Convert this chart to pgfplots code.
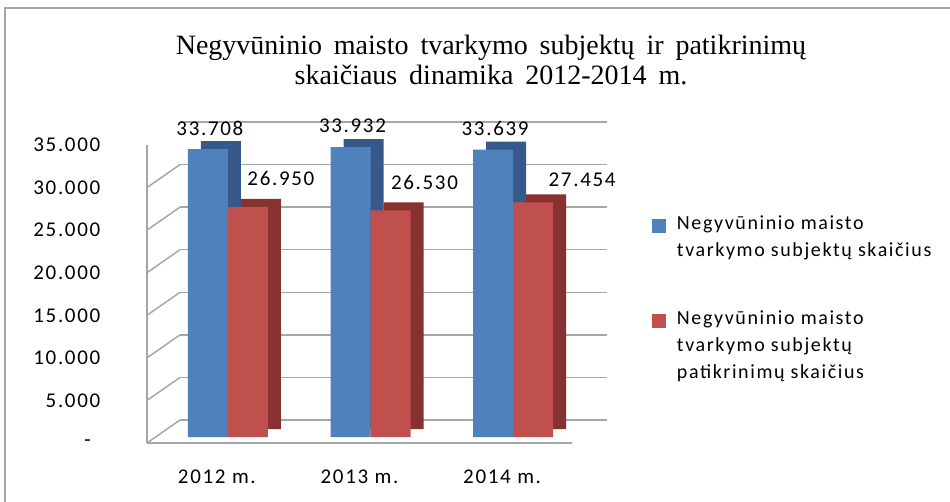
\documentclass[border=0pt]{standalone}
\usepackage{pgfplots}
\usepackage{pgfplotstable}
\pgfplotsset{compat=1.18}
\usepackage{fontspec}
\setmainfont{Carlito}[LetterSpace=8]
\newfontfamily\titlefont{Liberation Serif}[WordSpace=1.7]
\definecolor{bblue}{HTML}{4F81BD}
\definecolor{rred}{HTML}{C0504D}
\definecolor{dblue}{HTML}{36598A}
\definecolor{dred}{HTML}{873230}
\definecolor{gridc}{HTML}{A6A6A6}

\pgfplotstableread{
x y
0 33708
1 33932
2 33639
}\bluetab
\pgfplotstableread{
x y lx ly
0 26950 24.75 21.5
1 26530 25.5 21.2
2 27454 36.75 16.8
}\redtab

\pgfplotsset{
  every axis/.append style={scaled y ticks=false},
  barax/.style={scale only axis, width=318.75pt, height=224.25pt, anchor=south west,
    xmin=-0.49, xmax=2.49, ymin=0, ymax=35000, ybar=0pt, bar width=30pt, hide axis},
  /pgf/number format/.cd, 1000 sep={.}, assume math mode=true
}

\begin{document}
\begin{tikzpicture}
\useasboundingbox (0,0) rectangle (712.5pt,375.75pt);
\draw[gridc, line width=1.1pt] (3.75pt,-2pt) -- (3.75pt,369.75pt) -- (714pt,369.75pt);
\node[font=\titlefont\fontsize{21pt}{22.5pt}\selectfont, align=center] at (368.25pt,330.75pt)
  {Negyvūninio maisto tvarkymo subjektų ir patikrinimų\\skaičiaus dinamika 2012-2014 m.};

% back wall with grid
\begin{axis}[scale only axis, width=320.25pt, height=223.5pt, at={(135pt,60.75pt)}, anchor=south west,
  xmin=0, xmax=1, ymin=0, ymax=35000, xtick=\empty, ytick={0,5000,10000,15000,20000,25000,30000,35000}, yticklabels={},
  ymajorgrids, grid style={gridc, line width=1.1pt}, axis line style={draw=none}, major tick length=0pt]
\end{axis}

% front plane: ticks, labels, side wall
\begin{axis}[scale only axis, width=318.75pt, height=223.5pt, at={(110.25pt,43.5pt)}, anchor=south west,
  xmin=-0.49, xmax=2.49, ymin=0, ymax=35000,
  axis x line*=bottom, axis y line*=left, axis line style={-, gridc, line width=1.1pt},
  major tick length=0pt,
  xtick={0,1,2}, xticklabels={2012 m., 2013 m., 2014 m.},
  ytick={0,5000,10000,15000,20000,25000,30000,35000},
  yticklabels={\makebox[12pt][l]{-},5.000,10.000,15.000,20.000,25.000,30.000,35.000},
  tick label style={font=\fontsize{15.75pt}{18pt}\selectfont},
  yticklabel style={xshift=-31.5pt},
  xticklabel style={yshift=-16.5pt}]
\pgfplotsinvokeforeach{0,5000,10000,15000,20000,25000,30000,35000}{
  \draw[gridc, line width=1.1pt] (axis cs:-0.49,#1) -- ++(24.75pt,17.25pt);
}
\draw[gridc, line width=1.1pt] (axis cs:2.49,0) -- ++(26.25pt,17.25pt);
\end{axis}

% depth (dark) bars
\begin{axis}[barax, at={(128.25pt,54pt)}]
\addplot[fill=dblue, draw=none] table[x=x,y=y] {\bluetab};
\addplot[fill=dred, draw=none] table[x=x,y=y] {\redtab};
\end{axis}

% front bars
\begin{axis}[barax, at={(118.5pt,48pt)},
  legend image code/.code={\fill[#1] (0pt,-4.5pt) rectangle (10.5pt,-15pt);},
  legend style={at={(1.1624,0.751)}, anchor=north west, draw=none, fill=none, inner sep=0pt,
    font=\fontsize{15pt}{20.25pt}\selectfont,
    cells={anchor=north west, align=left, inner sep=0pt}, row sep=35pt, column sep=6pt}]
\addplot[fill=bblue, draw=none, nodes near coords,
  every node near coord/.append style={anchor=center, xshift=1.5pt, yshift=15.75pt,
    font=\fontsize{15.75pt}{18pt}\selectfont}]
  table[x=x,y=y] {\bluetab};
\addplot[fill=rred, draw=none, nodes near coords,
  visualization depends on={\thisrow{lx} \as \lx},
  visualization depends on={\thisrow{ly} \as \ly},
  every node near coord/.append style={anchor=center, xshift=\lx pt, yshift=\ly pt,
    font=\fontsize{15.75pt}{18pt}\selectfont}]
  table[x=x,y=y] {\redtab};
\legend{{Negyvūninio maisto\\tvarkymo subjektų skaičius},{Negyvūninio maisto\\tvarkymo subjektų\\patikrinimų skaičius}}
\end{axis}
\end{tikzpicture}
\end{document}
